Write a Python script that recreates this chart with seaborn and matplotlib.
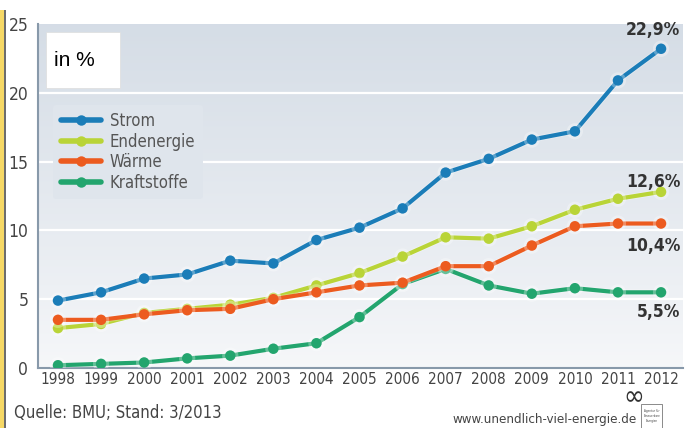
import numpy as np
import pandas as pd
import matplotlib
matplotlib.use("Agg")
import matplotlib.pyplot as plt
import matplotlib.patheffects as pe
from matplotlib import font_manager
from matplotlib.lines import Line2D
from matplotlib.patches import Rectangle
import seaborn as sns

years = list(range(1998, 2013))
strom = [4.9, 5.5, 6.5, 6.8, 7.8, 7.6, 9.3, 10.2, 11.6, 14.2, 15.2, 16.6, 17.2, 20.9, 23.2]
endenergie = [2.9, 3.2, 4.0, 4.3, 4.6, 5.1, 6.0, 6.9, 8.1, 9.5, 9.4, 10.3, 11.5, 12.3, 12.8]
waerme = [3.5, 3.5, 3.9, 4.2, 4.3, 5.0, 5.5, 6.0, 6.2, 7.4, 7.4, 8.9, 10.3, 10.5, 10.5]
kraftstoffe = [0.2, 0.3, 0.4, 0.7, 0.9, 1.4, 1.8, 3.7, 6.1, 7.2, 6.0, 5.4, 5.8, 5.5, 5.5]
series_names = ["Strom", "Endenergie", "Wärme", "Kraftstoffe"]
colors = ["#1b7db8", "#b9d437", "#ec5b1f", "#23a56e"]
end_labels = ["22,9%", "12,6%", "10,4%", "5,5%"]
end_label_y = [24.55, 13.5, 8.85, 4.05]
yticks = [0, 5, 10, 15, 20, 25]

sns.set_theme(style="white")

# try to find a condensed sans
cond_path = None
try:
    p = font_manager.findfont(font_manager.FontProperties(family="DejaVu Sans", stretch="condensed"))
    if "ondensed" in p:
        cond_path = p
except Exception:
    pass
if cond_path is None:
    for f in font_manager.fontManager.ttflist:
        if "DejaVuSansCondensed.ttf" in f.fname:
            cond_path = f.fname
            break
if cond_path is not None:
    font_manager.fontManager.addfont(cond_path)
    COND = font_manager.FontProperties(fname=cond_path).get_name()
    plt.rcParams["font.family"] = [COND]
    plt.rcParams["font.stretch"] = "condensed"
else:
    plt.rcParams["font.family"] = ["DejaVu Sans"]

REG = "Liberation Sans"
try:
    font_manager.findfont(font_manager.FontProperties(family=REG), fallback_to_default=False)
except Exception:
    REG = "DejaVu Sans"

data = {"Strom": strom, "Endenergie": endenergie, "Wärme": waerme, "Kraftstoffe": kraftstoffe}
df = pd.DataFrame([{"Jahr": y, "Serie": s, "Wert": v}
                   for s in series_names for y, v in zip(years, data[s])])

fig = plt.figure(figsize=(6.87, 4.28), dpi=100)
ax = fig.add_axes([38 / 687, 60 / 428, 645 / 687, 344 / 428])

# gradient background
grad = np.linspace(0, 1, 256).reshape(-1, 1)
top = np.array([0.835, 0.866, 0.902])
bot = np.array([0.965, 0.970, 0.978])
img = bot + (top - bot) * grad[:, :, None] ** 0.9
ax.imshow(img, extent=[1997.536, 2012.51, 0, 25], origin="lower", aspect="auto", zorder=0)

for yv in [5, 10, 15, 20]:
    ax.axhline(yv, color="white", lw=1.6, zorder=1)

order = ["Kraftstoffe", "Endenergie", "Wärme", "Strom"]
pal = dict(zip(series_names, colors))
for i, s in enumerate(order):
    sub = df[df["Serie"] == s]
    sns.lineplot(data=sub, x="Jahr", y="Wert", ax=ax, color=pal[s], lw=3.0,
                 marker="o", markersize=7.5, markeredgecolor=pal[s], markeredgewidth=0,
                 zorder=3 + i, legend=False,
                 path_effects=[pe.Stroke(linewidth=4.2, foreground="white", alpha=0.3), pe.Normal()])

ax.set_xlim(1997.536, 2012.51)
ax.set_ylim(0, 25)
ax.set_xticks(years)
ax.set_xticklabels([str(y) for y in years], fontsize=11, color="#444444")
ax.set_yticks(yticks)
ax.set_yticklabels([str(v) for v in yticks], fontsize=12.5, color="#444444")
ax.tick_params(axis="both", length=0, pad=3)
ax.tick_params(axis="y", pad=7)
ax.set_xlabel("")
ax.set_ylabel("")
for sp in ["top", "right"]:
    ax.spines[sp].set_visible(False)
for sp in ["left", "bottom"]:
    ax.spines[sp].set_color("#8899aa")
    ax.spines[sp].set_linewidth(1.5)

# end labels
for lab, yv in zip(end_labels, end_label_y):
    ax.text(2012.45, yv, lab, ha="right", va="center", fontsize=12.5,
            fontweight="bold", color="#333333", zorder=10)

# legend
handles = [Line2D([0], [0], color=c, lw=4, marker="o", markersize=7.5,
                  markeredgewidth=0) for c in colors]
leg = ax.legend(handles, series_names, loc="upper left", bbox_to_anchor=(0.008, 0.795),
                frameon=True, fontsize=12, handlelength=2.45, handletextpad=0.5,
                labelspacing=0.15, borderpad=0.45, borderaxespad=0.6)
leg.get_frame().set_facecolor("#dfe5ec")
leg.get_frame().set_edgecolor("none")
leg.get_frame().set_alpha(1)
for t in leg.get_texts():
    t.set_color("#555555")
leg.set_zorder(2)

# "in %" box
fig.patches.append(Rectangle((46 / 687, 1 - 88 / 428), 74 / 687, 56 / 428,
                             transform=fig.transFigure, facecolor="white",
                             edgecolor="#dddddd", lw=0.5, zorder=5))
fig.text(54 / 687, 1 - 60 / 428, "in %", fontsize=15, family=REG, stretch="normal",
         color="black", va="center", ha="left", zorder=6)

# left stripe
fig.patches.append(Rectangle((0, 0), 4 / 687, 418 / 428, transform=fig.transFigure,
                             facecolor="#f6d865", edgecolor="none"))
fig.patches.append(Rectangle((4 / 687, 0), 2 / 687, 418 / 428, transform=fig.transFigure,
                             facecolor="#6d6d6d", edgecolor="none"))

# footer
fig.text(14 / 687, 1 - 413 / 428, "Quelle: BMU; Stand: 3/2013", fontsize=12,
         color="#444444", va="center", ha="left")
fig.text(637 / 687, 1 - 420 / 428, "www.unendlich-viel-energie.de", fontsize=9.5,
         color="#444444", va="center", ha="right")
fig.text(634 / 687, 1 - 397 / 428, "∞", fontsize=20, color="#333333",
         va="center", ha="center", family="DejaVu Sans")
fig.patches.append(Rectangle((641 / 687, 1 - 428 / 428), 21 / 687, 24 / 428,
                             transform=fig.transFigure, facecolor="white",
                             edgecolor="#777777", lw=0.6))
fig.text(652 / 687, 1 - 416 / 428, "Agentur für\nErneuerbare\nEnergien", fontsize=2.2,
         color="#444444", va="center", ha="center")

fig.savefig("out.png", dpi=100)
